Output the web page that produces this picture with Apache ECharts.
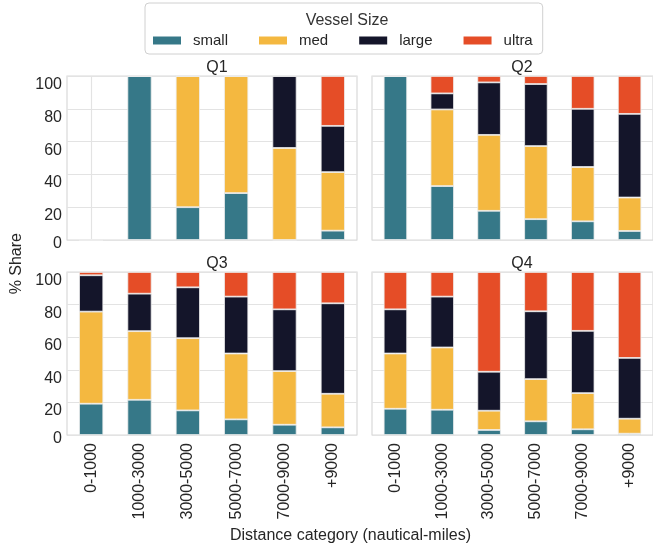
<!DOCTYPE html>
<html>
<head>
<meta charset="utf-8">
<script src="https://cdn.jsdelivr.net/npm/echarts@6/dist/echarts.min.js"></script>
<style>
  html, body { margin: 0; padding: 0; background: #ffffff; }
  #chart { width: 653px; height: 553px; }
</style>
</head>
<body>
<div id="chart"></div>
<script>
// Distance bands on the x axis
const categories = ['0-1000', '1000-3000', '3000-5000', '5000-7000', '7000-9000', '+9000'];
const sizes = ['small', 'med', 'large', 'ultra'];
const quarters = ['Q1', 'Q2', 'Q3', 'Q4'];
const yTicks = [0, 20, 40, 60, 80, 100];

// % share of each vessel size per distance band
const q1Small = [0, 100, 20, 28.6, 0, 5.7];
const q1Med   = [0, 0, 80, 71.4, 56.1, 35.7];
const q1Large = [0, 0, 0, 0, 43.9, 28.2];
const q1Ultra = [0, 0, 0, 0, 0, 30.4];

const q2Small = [100, 32.9, 17.8, 12.7, 11.4, 5.5];
const q2Med   = [0, 46.7, 46.3, 44.6, 33.1, 20.4];
const q2Large = [0, 9.8, 32, 37.8, 35.5, 51];
const q2Ultra = [0, 10.6, 3.9, 4.9, 20, 23.1];

const q3Small = [19.2, 21.6, 15.1, 9.6, 6.3, 4.7];
const q3Med   = [56.5, 42.1, 44.3, 40.4, 32.9, 20.6];
const q3Large = [22.3, 23, 31.2, 34.9, 37.9, 55.5];
const q3Ultra = [2, 13.3, 9.4, 15.1, 22.9, 19.2];

const q4Small = [16.1, 15.5, 3.1, 8.4, 3.5, 0.8];
const q4Med   = [33.9, 38.2, 11.8, 25.9, 22.2, 9.2];
const q4Large = [27.1, 31.2, 23.9, 41.6, 38.2, 37.3];
const q4Ultra = [22.9, 15.1, 61.2, 24.1, 36.1, 52.7];

const quarterData = [
  [q1Small, q1Med, q1Large, q1Ultra],
  [q2Small, q2Med, q2Large, q2Ultra],
  [q3Small, q3Med, q3Large, q3Ultra],
  [q4Small, q4Med, q4Large, q4Ultra]
];

const palette = ['#367888', '#F4B840', '#14152A', '#E54D27'];
const FONT = "'Liberation Sans', Arial, sans-serif";
const TEXT = '#262626';
const GRID_LINE = '#e3e3e3';
const FRAME = '#d9d9d9';

// 2x2 panel layout
const panels = [
  { left: 67,  top: 76,  width: 290, height: 164 },
  { left: 372, top: 76,  width: 290, height: 164 },
  { left: 67,  top: 272, width: 290, height: 163 },
  { left: 372, top: 272, width: 290, height: 163 }
];

const grid = panels.map(p => ({
  left: p.left, top: p.top, width: p.width, height: p.height,
  show: true, borderColor: FRAME, borderWidth: 1.2, backgroundColor: '#ffffff',
  containLabel: false
}));

const xAxis = panels.map((p, i) => ({
  type: 'category',
  gridIndex: i,
  data: categories,
  axisLine: { show: false },
  axisTick: { show: false, alignWithLabel: true },
  splitLine: { show: true, alignWithLabel: true, lineStyle: { color: GRID_LINE, width: 1.2 } },
  axisLabel: {
    show: i >= 2,
    rotate: 90,
    margin: 8,
    fontSize: 16,
    color: TEXT,
    fontFamily: FONT,
    interval: 0
  }
}));

// tick labels sit a little below their grid lines
const tickRich = {
  n: { fontSize: 16, color: TEXT, fontFamily: FONT, padding: [17, 0, 0, 0] },
  z: { fontSize: 16, color: TEXT, fontFamily: FONT, padding: [8, 0, 0, 0] }
};

const yAxis = panels.map((p, i) => ({
  type: 'value',
  gridIndex: i,
  min: 0,
  max: 100,
  interval: 20,
  axisLine: { show: false },
  axisTick: { show: false },
  splitLine: { show: true, lineStyle: { color: GRID_LINE, width: 1.2 } },
  axisLabel: {
    show: i % 2 === 0,
    margin: 5,
    fontSize: 16,
    color: TEXT,
    fontFamily: FONT,
    rich: tickRich,
    formatter: v => {
      if (yTicks.indexOf(v) < 0) return '';
      return v === 0 ? '{z|0}' : '{n|' + v + '}';
    }
  }
}));

const series = [];
quarterData.forEach((qd, qi) => {
  qd.forEach((vals, si) => {
    series.push({
      type: 'bar',
      name: sizes[si],
      stack: quarters[qi],
      xAxisIndex: qi,
      yAxisIndex: qi,
      barWidth: '50%',
      data: vals,
      itemStyle: { color: palette[si], borderColor: '#eeeeee', borderWidth: 0.8 },
      emphasis: { disabled: true }
    });
  });
});

const titles = panels.map((p, i) => ({
  text: quarters[i],
  left: p.left + p.width / 2,
  top: p.top - 21,
  textAlign: 'center',
  textStyle: { fontSize: 16, fontWeight: 'normal', color: TEXT, fontFamily: FONT }
}));
titles.push({
  text: 'Vessel Size',
  left: 342,
  top: 8,
  textAlign: 'center',
  textStyle: { fontSize: 16, fontWeight: 'normal', color: '#333333', fontFamily: FONT }
});

const chart = echarts.init(document.getElementById('chart'), null, { renderer: 'canvas' });
chart.setOption({
  backgroundColor: '#ffffff',
  animation: false,
  color: palette,
  title: titles,
  legend: {
    data: sizes,
    left: 145,
    top: 3,
    orient: 'horizontal',
    padding: [30, 10, 6, 8],
    itemWidth: 28,
    itemHeight: 8,
    itemGap: 31,
    icon: 'rect',
    borderColor: '#d0d0d0',
    borderWidth: 1,
    borderRadius: 4,
    backgroundColor: '#ffffff',
    selectedMode: false,
    textStyle: { fontSize: 15, color: TEXT, fontFamily: FONT, padding: [0, 0, 0, 7] },
    itemStyle: { borderWidth: 0 }
  },
  grid: grid,
  xAxis: xAxis,
  yAxis: yAxis,
  series: series,
  graphic: [
    {
      type: 'text',
      left: 9,
      top: 233,
      rotation: Math.PI / 2,
      style: { text: '% Share', fontSize: 16, fill: TEXT, fontFamily: FONT }
    },
    {
      type: 'text',
      left: 230,
      top: 528,
      style: { text: 'Distance category (nautical-miles)', fontSize: 16, fill: TEXT, fontFamily: FONT }
    }
  ]
});
</script>
</body>
</html>
